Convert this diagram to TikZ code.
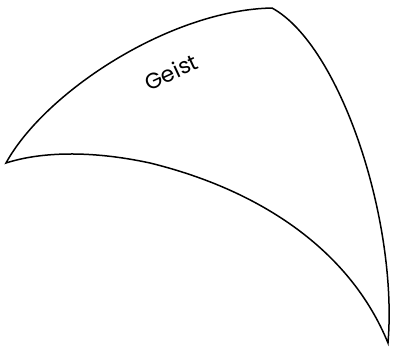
\documentclass[tikz,border=0pt]{standalone}
\usepackage{fontspec}
\setsansfont{Poppins}
\usepackage{tikz}
\begin{document}
\begin{tikzpicture}[
    x=1pt,y=-1pt,
    outline/.style={draw,line width=1.5pt,line join=miter},
    label/.style={font=\sffamily\fontsize{22}{22}\selectfont,rotate=25}]
  \useasboundingbox (0,0) rectangle (398,349);

  \draw[outline] (6,163) .. controls (45,92) and (170,10) .. (272,8)
    .. controls (340,45) and (398,220) .. (388,343)
    .. controls (350,250) and (260,190) .. (150,163)
    .. controls (90,150) and (40,152) .. cycle;

  \node[label] (geist) at (171,72) {Geist};
\end{tikzpicture}
\end{document}
